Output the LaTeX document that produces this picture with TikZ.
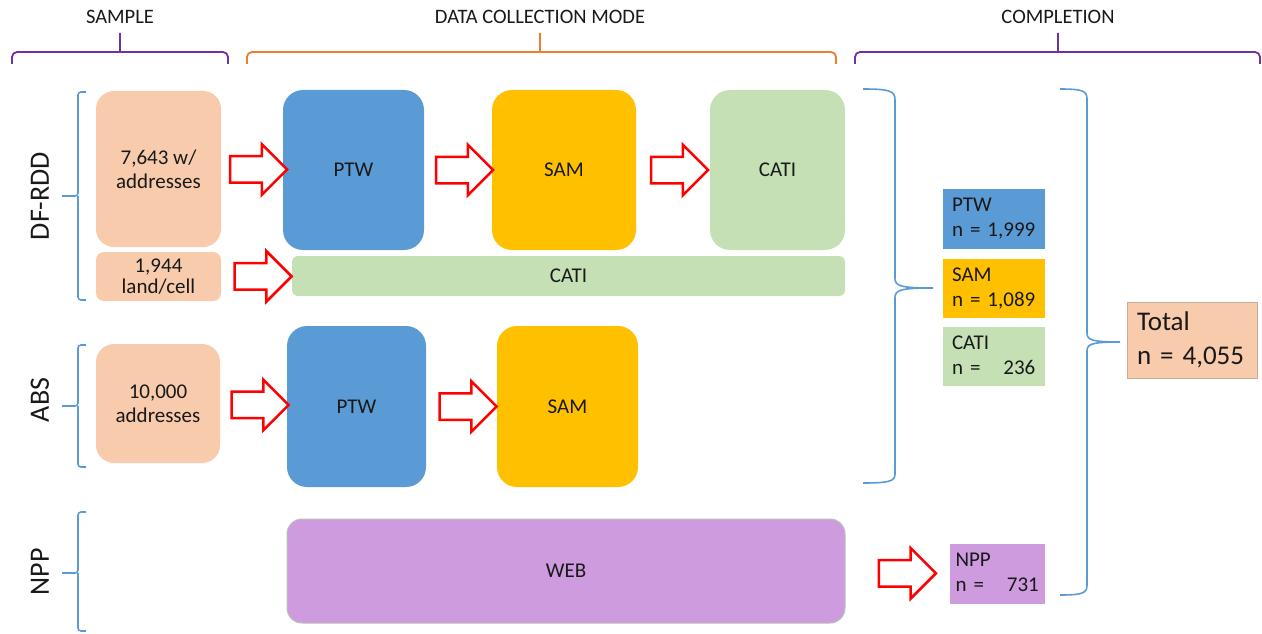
\documentclass[tikz,border=0pt]{standalone}
\usepackage{fontspec}
\setmainfont{Carlito}
\usetikzlibrary{shapes.arrows}

\definecolor{peach}{HTML}{F8CBAD}
\definecolor{ptwblue}{HTML}{5B9BD5}
\definecolor{samgold}{HTML}{FFC000}
\definecolor{catigreen}{HTML}{C5E0B4}
\definecolor{webpurple}{HTML}{CE9BDE}
\definecolor{bracepurple}{HTML}{7030A0}
\definecolor{braceorange}{HTML}{ED7D31}
\definecolor{braceblue}{HTML}{5B9BD5}

\begin{document}
\begin{tikzpicture}[x=1pt, y=-1pt,
	header/.style={font=\fontsize{20.5}{24}\selectfont, text=black!90},
	sidelabel/.style={font=\fontsize{28}{32}\selectfont, text=black!90, rotate=90},
	topbrace/.style={line width=1.8pt, rounded corners=5pt},
	sidebrace/.style={draw=braceblue, line width=1.6pt},
	modebox/.style={shape=rectangle, rounded corners=20pt, align=center, font=\fontsize{21}{24}\selectfont, text=black!90},
	countbox/.style={shape=rectangle, align=left, inner xsep=9pt, inner ysep=0pt, font=\fontsize{21}{25}\selectfont, text=black!90},
	blockarrow/.style={single arrow, draw=red, fill=white, line width=2.5pt, minimum height=57pt, single arrow head extend=12pt, inner xsep=0pt, inner ysep=12pt}]
	\useasboundingbox (0, 0) rectangle (1262, 634);
	% Headers and their braces:
	\node[header] (hsample) at (120, 17){SAMPLE};
	\node[header] (hmode) at (540, 17){DATA COLLECTION MODE};
	\node[header] (hcomp) at (1058, 17){COMPLETION};
	\draw[topbrace, bracepurple] (12, 64) -- (12, 52) -- (228, 52) -- (228, 64) (120, 52) -- (120, 33);
	\draw[topbrace, braceorange] (247, 64) -- (247, 52) -- (836, 52) -- (836, 64) (540, 52) -- (540, 33);
	\draw[topbrace, bracepurple] (855, 64) -- (855, 52) -- (1260, 52) -- (1260, 64) (1058, 52) -- (1058, 33);
	% Sample frames:
	\node[sidelabel] (ldf) at (40, 196){DF-RDD};
	\node[sidelabel] (labs) at (40, 400){ABS};
	\node[sidelabel] (lnpp) at (40, 572){NPP};
	\draw[sidebrace, rounded corners=3pt] (86, 92) -- (78, 92) -- (78, 196) -- (62, 196) (78, 196) -- (78, 300) -- (86, 300);
	\draw[sidebrace, rounded corners=3pt] (86, 345) -- (78, 345) -- (78, 406) -- (62, 406) (78, 406) -- (78, 467) -- (86, 467);
	\draw[sidebrace, rounded corners=3pt] (86, 512) -- (78, 512) -- (78, 573) -- (62, 573) (78, 573) -- (78, 631) -- (86, 631);
	% Boxes:
	\node[modebox, fill=peach, rounded corners=18pt, minimum width=125pt, minimum height=156pt] (s1) at (158.5, 169){7,643 w/\\addresses};
	\node[modebox, fill=peach, rounded corners=8pt, minimum width=125pt, minimum height=49pt, inner sep=0pt, font=\fontsize{21}{21}\selectfont] (s2) at (158.5, 276.5){1,944\\land/cell};
	\node[modebox, fill=peach, rounded corners=18pt, minimum width=124pt, minimum height=119pt] (s3) at (158, 403.5){10,000\\addresses};
	\node[modebox, fill=ptwblue, minimum width=141pt, minimum height=160pt] (ptw1) at (353.5, 170){PTW};
	\node[modebox, fill=samgold, minimum width=144pt, minimum height=160pt] (sam1) at (564, 170){SAM};
	\node[modebox, fill=catigreen, minimum width=135pt, minimum height=160pt] (cati1) at (777.5, 170){CATI};
	\node[modebox, fill=catigreen, rounded corners=6pt, minimum width=553pt, minimum height=40pt] (cati2) at (568.5, 276){CATI};
	\node[modebox, fill=ptwblue, minimum width=139pt, minimum height=161pt] (ptw2) at (356.5, 406.5){PTW};
	\node[modebox, fill=samgold, minimum width=141pt, minimum height=161pt] (sam2) at (567.5, 406.5){SAM};
	\node[modebox, fill=webpurple, draw=black!25, line width=1pt, rounded corners=15pt, minimum width=558pt, minimum height=104pt] (web) at (566, 571){WEB};
	% Completion counts:
	\node[countbox, fill=ptwblue, text width=84pt, minimum height=60pt] (cptw) at (994, 219){PTW\\n = 1,999};
	\node[countbox, fill=samgold, text width=84pt, minimum height=59pt] (csam) at (994, 288.5){SAM\\n = 1,089};
	\node[countbox, fill=catigreen, text width=84pt, minimum height=59pt] (ccati) at (994, 356.5){CATI\\n = \phantom{1,}236};
	\node[countbox, fill=webpurple, inner xsep=5.5pt, text width=84pt, minimum height=60pt] (cnpp) at (997.5, 574){NPP\\n = \phantom{1,}731};
	\node[countbox, fill=peach, draw=peach!80!black!90, line width=0.6pt, inner xsep=10pt, text width=110pt, minimum height=76pt, font=\fontsize{27}{34}\selectfont] (total) at (1192, 340){Total\\n = 4,055};
	\draw[sidebrace] (863, 89) .. controls (890, 89) and (895, 91) .. (895, 100) -- (895, 278) .. controls (895, 286) and (900, 288) .. (933, 288) .. controls (900, 288) and (895, 290) .. (895, 298) -- (895, 474) .. controls (895, 481) and (890, 483) .. (863, 483);
	\draw[sidebrace] (1060, 89) .. controls (1083, 89) and (1087, 91) .. (1087, 99) -- (1087, 333) .. controls (1087, 340) and (1092, 342) .. (1120, 342) .. controls (1092, 342) and (1087, 344) .. (1087, 351) -- (1087, 585) .. controls (1087, 593) and (1083, 595) .. (1060, 595);
	% Arrows:
	\path (s1) -- (ptw1) node[midway, blockarrow] (a1){};
	\path (ptw1) -- (sam1) node[midway, blockarrow] (a2){};
	\path (sam1) -- (cati1) node[midway, blockarrow] (a3){};
	\path (s2) -- (cati2) node[midway, blockarrow] (a4){};
	\path (s3) -- (ptw2) node[midway, blockarrow] (a5){};
	\path (ptw2) -- (sam2) node[midway, blockarrow] (a6){};
	\path (web) -- (cnpp) node[pos=0.53, blockarrow] (a7){};
\end{tikzpicture}
\end{document}
